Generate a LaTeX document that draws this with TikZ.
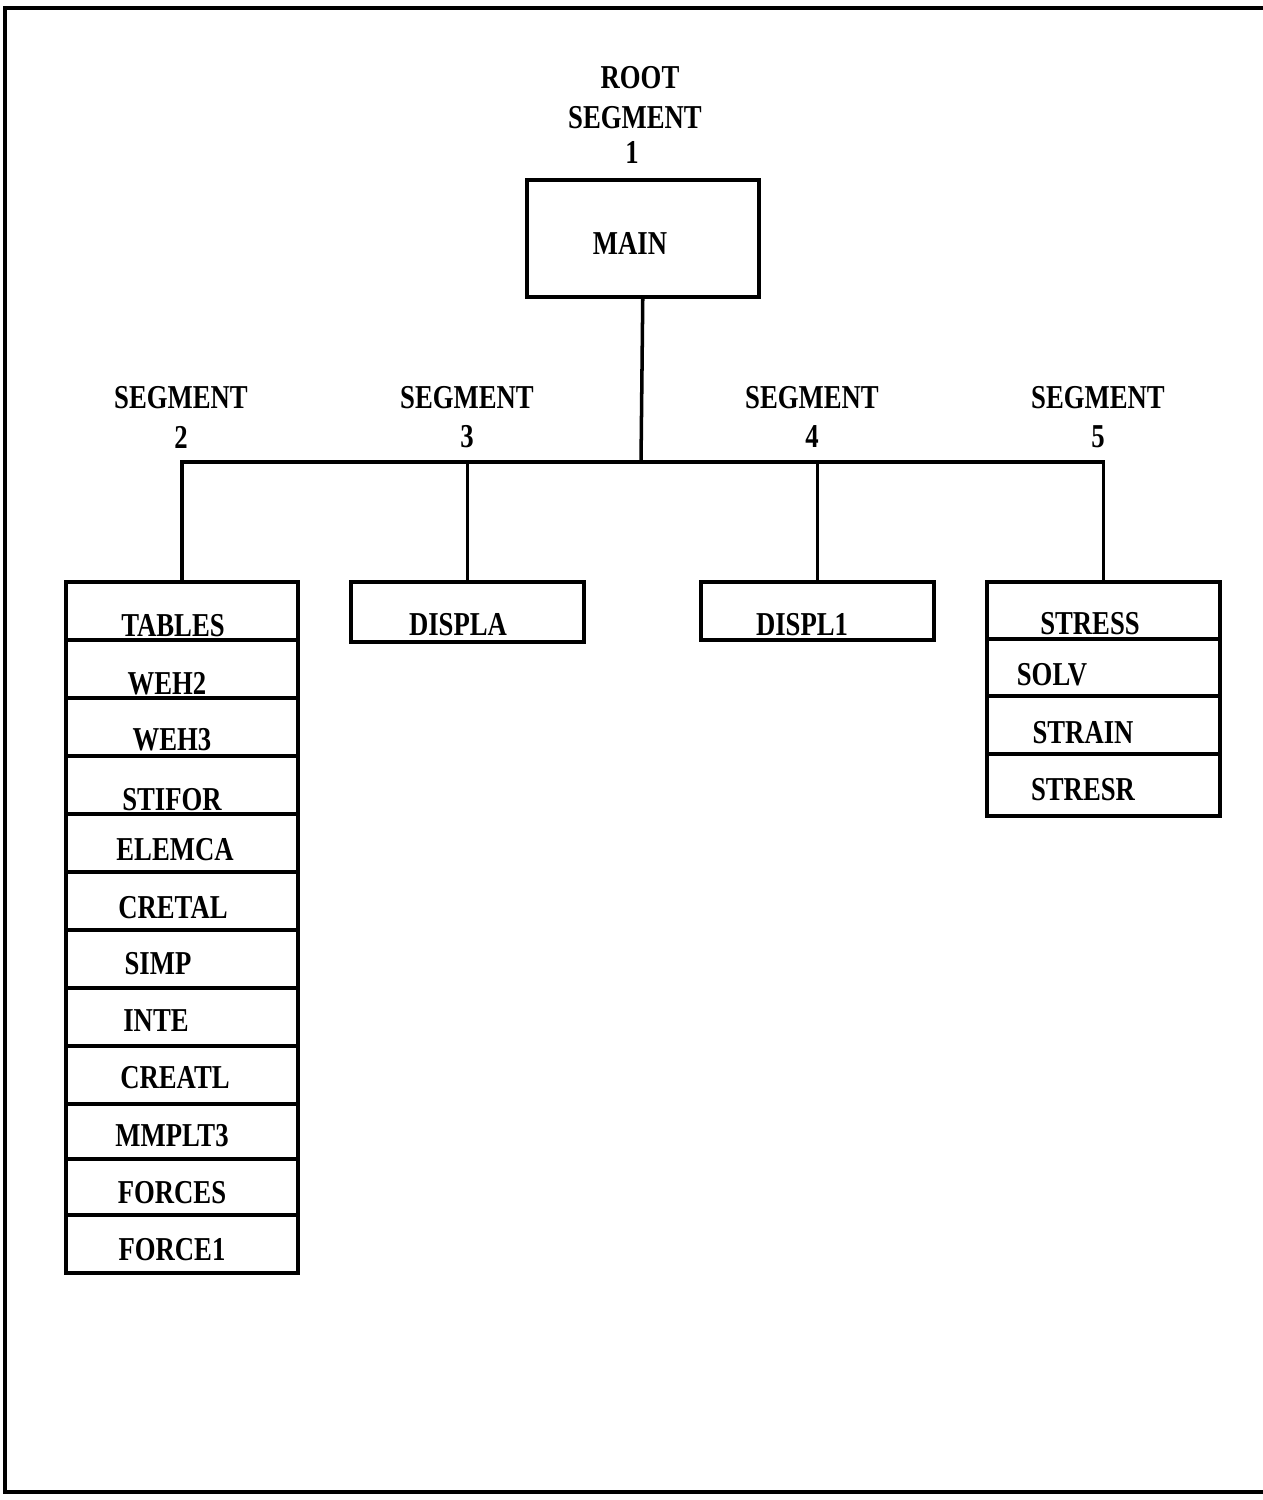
\documentclass[tikz,border=0pt]{standalone}
\usepackage{fontspec}
\newfontfamily\typefont[FakeStretch=0.8]{Liberation Serif}
\begin{document}
\begin{tikzpicture}[x=0.02cm,y=-0.02cm,
  ln/.style={line width=2pt},
  txt/.style={font=\typefont\bfseries\fontsize{19}{22}\selectfont, inner sep=0pt},
  cell/.style={draw, line width=2pt, inner sep=0pt, anchor=north west}]
\useasboundingbox (0,0) rectangle (1263,1500);

% page frame (open on the right)
\draw[ln] (1263,8) -- (5,8) -- (5,1492) -- (1263,1492);

% root segment
\node[txt] (lroot) at (640,78) {ROOT};
\node[txt] (lroots) at (635,118) {SEGMENT};
\node[txt] (lroot1) at (632,152) {1};
\node[cell, minimum width=232*0.02cm, minimum height=117*0.02cm] (main) at (525,178) {};
\node[txt] (tmain) at (630,243) {MAIN};

% segment headings
\node[txt] (lseg2) at (181,398) {SEGMENT};
\node[txt] (lseg2n) at (181,437) {2};
\node[txt] (lseg3) at (467,398) {SEGMENT};
\node[txt] (lseg3n) at (467,437) {3};
\node[txt] (lseg4) at (812,398) {SEGMENT};
\node[txt] (lseg4n) at (812,437) {4};
\node[txt] (lseg5) at (1098,398) {SEGMENT};
\node[txt] (lseg5n) at (1098,437) {5};

% segment 2 stack
\foreach \i/\top/\h/\tx/\ty/\name in {
  1/580/58/173/626/TABLES,
  2/638/58/167/684/WEH2,
  3/696/58/172/740/WEH3,
  4/754/58/172/800/STIFOR,
  5/812/58/175/850/ELEMCA,
  6/870/58/173/908/CRETAL,
  7/928/58/158/964/SIMP,
  8/986/58/156/1021/INTE,
  9/1044/58/175/1078/CREATL,
  10/1102/55/172/1136/MMPLT3,
  11/1157/56/172/1193/FORCES,
  12/1213/58/172/1250/FORCE1}{
  \node[cell, minimum width=232*0.02cm, minimum height=\h*0.02cm] (sa\i) at (64,\top) {};
  \node[txt] (ta\i) at (\tx,\ty) {\name};
}

% segments 3 and 4
\node[cell, minimum width=233*0.02cm, minimum height=60*0.02cm] (displa) at (349,580) {};
\node[txt] (tdispla) at (458,625) {DISPLA};
\node[cell, minimum width=233*0.02cm, minimum height=58*0.02cm] (displb) at (699,580) {};
\node[txt] (tdisplb) at (802,625) {DISPL1};

% segment 5 stack
\foreach \i/\top/\h/\tx/\ty/\name in {
  1/580/57/1090/624/STRESS,
  2/637/57/1052/675/SOLV,
  3/694/58/1083/733/STRAIN,
  4/752/62/1083/790/STRESR}{
  \node[cell, minimum width=233*0.02cm, minimum height=\h*0.02cm] (sb\i) at (985,\top) {};
  \node[txt] (tb\i) at (\tx,\ty) {\name};
}

% tree connectors
\coordinate (bus) at (641,462);
\draw[ln] (main.south) -- (bus);
\draw[ln] (sa1.north) -- ++(0,-118) -| (sb1.north);
\draw[ln] (displa.north) -- (displa.north |- bus);
\draw[ln] (displb.north) -- (displb.north |- bus);
\end{tikzpicture}
\end{document}
